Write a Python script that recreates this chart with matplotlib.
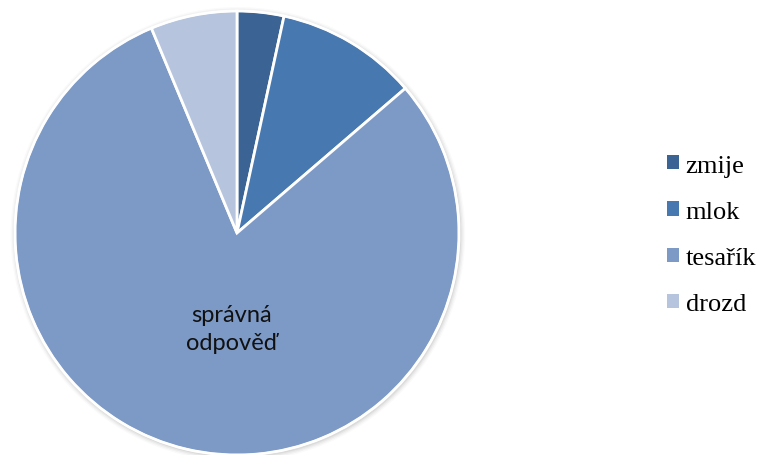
import matplotlib
matplotlib.use("Agg")
import matplotlib.pyplot as plt
from matplotlib.patches import Circle, Patch

categories = ["zmije", "mlok", "tesařík", "drozd"]
values = [3.4, 10.3, 80.0, 6.3]
colors = ["#3B6495", "#4878B0", "#7D9AC7", "#B6C4DE"]
inner_label = "správná\nodpověď"

W, H = 758, 456
fig = plt.figure(figsize=(W / 100, H / 100), dpi=100)

# pie axes: centre (237, 234) px, radius 222 px
cx, cy, r = 237, 234, 222
ax = fig.add_axes([(cx - r) / W, (H - cy - r) / H, 2 * r / W, 2 * r / H])

wedges, _ = ax.pie(values, colors=colors, startangle=90, counterclock=False,
                   radius=1.0, wedgeprops=dict(edgecolor="white", linewidth=2))
ax.set_xlim(-1, 1)
ax.set_ylim(-1, 1)
ax.set_aspect("equal")
ax.axis("off")

# soft drop shadow around the disc
for i, a in enumerate([0.05, 0.04, 0.03, 0.02]):
    ax.add_patch(Circle((0.004, -0.006), 1.0 + 0.006 * (i + 1), color="black",
                        alpha=a, lw=0, zorder=0, clip_on=False))
for w in wedges:
    w.set_zorder(2)
    w.set_clip_on(False)
ax.add_patch(Circle((0, 0), 1.0, fill=False, edgecolor="white", lw=1.5,
                    zorder=3, clip_on=False))

ax.text(-0.025, -0.43, inner_label, ha="center", va="center", fontsize=17,
        family="Lato", color="#111111", linespacing=1.45, zorder=4)

handles = [Patch(facecolor=c, edgecolor="none") for c in colors]
leg = fig.legend(handles, categories, loc="center left",
                 bbox_to_anchor=(654 / W, 1 - 236 / H), frameon=False,
                 prop={"family": "Liberation Serif", "size": 19},
                 handlelength=0.45, handleheight=0.45, handletextpad=0.25,
                 labelspacing=0.92, borderpad=0)

fig.savefig("out.png", dpi=100)
